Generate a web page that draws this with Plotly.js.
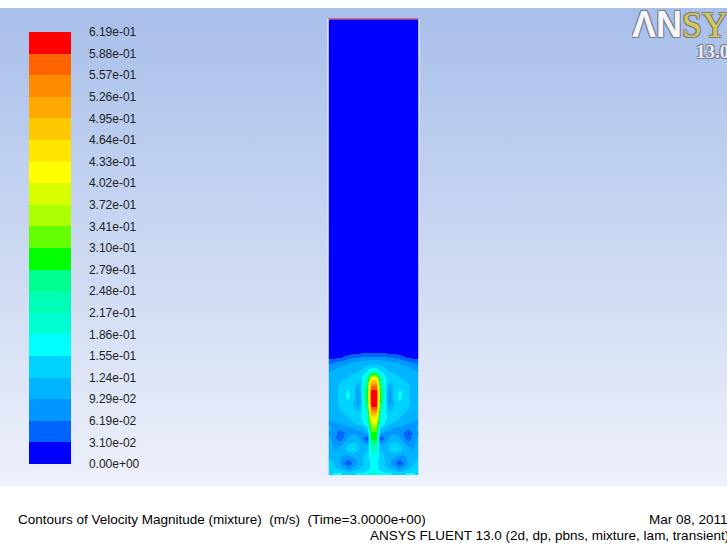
<!DOCTYPE html>
<html>
<head>
<meta charset="utf-8">
<script src="https://cdn.plot.ly/plotly-3.0.1.min.js"></script>
<style>
html,body{margin:0;padding:0;background:#ffffff;}
#chart{width:727px;height:544px;background:linear-gradient(to bottom,#ffffff 0px,#ffffff 8px,#a8bfea 8px,#eef1fa 486px,#ffffff 486px,#ffffff 544px);}
</style>
</head>
<body>
<div id="chart"></div>
<script>
// Sample positions across the column (m) and heights (m), listed top to bottom
const xCentres = [0.005,0.015,0.025,0.035,0.045,0.055,0.065,0.075,0.085,0.095,0.105,0.115,0.125,0.135,0.145,0.155,0.165,0.175,0.185,0.195];
const yLevels = [1.0,0.290,0.280,0.269,0.258,0.247,0.236,0.225,0.214,0.203,0.192,0.181,0.170,0.159,0.148,0.137,0.126,0.115,0.104,0.093,0.082,0.071,0.060,0.049,0.038,0.027,0.016,0.005];

// Velocity magnitude (m/s), rows top to bottom, matching yLevels
const velocity = [
  [0.005,0.005,0.005,0.005,0.005,0.005,0.005,0.005,0.005,0.005,0.005,0.005,0.005,0.005,0.005,0.005,0.005,0.005,0.005,0.005],
  [0.01,0.01,0.01,0.01,0.01,0.01,0.01,0.01,0.01,0.01,0.01,0.01,0.01,0.01,0.01,0.01,0.01,0.01,0.01,0.01],
  [0.012,0.012,0.012,0.012,0.012,0.012,0.012,0.012,0.012,0.012,0.012,0.012,0.012,0.012,0.012,0.012,0.012,0.012,0.012,0.012],
  [0.014,0.014,0.015,0.016,0.018,0.02,0.022,0.024,0.026,0.027,0.027,0.026,0.024,0.022,0.02,0.018,0.016,0.015,0.014,0.014],
  [0.02,0.022,0.028,0.035,0.045,0.055,0.06,0.065,0.068,0.07,0.07,0.068,0.065,0.06,0.055,0.045,0.035,0.028,0.022,0.02],
  [0.05,0.06,0.07,0.08,0.09,0.095,0.1,0.105,0.11,0.112,0.112,0.11,0.105,0.1,0.095,0.09,0.08,0.07,0.06,0.05],
  [0.08,0.09,0.095,0.1,0.105,0.11,0.115,0.12,0.13,0.14,0.14,0.13,0.12,0.115,0.11,0.105,0.1,0.095,0.09,0.08],
  [0.095,0.1,0.105,0.11,0.115,0.12,0.125,0.135,0.16,0.22,0.22,0.16,0.135,0.125,0.12,0.115,0.11,0.105,0.1,0.095],
  [0.1,0.105,0.11,0.115,0.125,0.135,0.14,0.155,0.21,0.4,0.4,0.21,0.155,0.14,0.135,0.125,0.115,0.11,0.105,0.1],
  [0.1,0.11,0.12,0.135,0.14,0.135,0.12,0.165,0.25,0.51,0.51,0.25,0.165,0.12,0.135,0.14,0.135,0.12,0.11,0.1],
  [0.1,0.115,0.13,0.145,0.15,0.14,0.085,0.17,0.28,0.57,0.57,0.28,0.17,0.085,0.14,0.15,0.145,0.13,0.115,0.1],
  [0.1,0.115,0.13,0.15,0.16,0.14,0.075,0.17,0.3,0.61,0.61,0.3,0.17,0.075,0.14,0.16,0.15,0.13,0.115,0.1],
  [0.1,0.115,0.13,0.15,0.16,0.14,0.07,0.17,0.3,0.62,0.62,0.3,0.17,0.07,0.14,0.16,0.15,0.13,0.115,0.1],
  [0.1,0.115,0.13,0.15,0.15,0.13,0.08,0.16,0.28,0.61,0.61,0.28,0.16,0.08,0.13,0.15,0.15,0.13,0.115,0.1],
  [0.1,0.11,0.125,0.14,0.14,0.13,0.11,0.16,0.25,0.58,0.58,0.25,0.16,0.11,0.13,0.14,0.14,0.125,0.11,0.1],
  [0.095,0.105,0.115,0.125,0.13,0.13,0.14,0.16,0.21,0.5,0.5,0.21,0.16,0.14,0.13,0.13,0.125,0.115,0.105,0.095],
  [0.095,0.1,0.11,0.115,0.125,0.135,0.145,0.16,0.2,0.44,0.44,0.2,0.16,0.145,0.135,0.125,0.115,0.11,0.1,0.095],
  [0.09,0.09,0.095,0.1,0.11,0.12,0.13,0.15,0.19,0.38,0.38,0.19,0.15,0.13,0.12,0.11,0.1,0.095,0.09,0.09],
  [0.095,0.085,0.075,0.08,0.085,0.09,0.1,0.11,0.14,0.33,0.33,0.14,0.11,0.1,0.09,0.085,0.08,0.07,0.085,0.095],
  [0.09,0.07,0.04,0.06,0.08,0.09,0.085,0.08,0.1,0.3,0.3,0.1,0.08,0.085,0.09,0.08,0.06,0.03,0.06,0.09],
  [0.095,0.07,0.035,0.07,0.1,0.11,0.1,0.07,0.03,0.29,0.29,0.03,0.07,0.1,0.11,0.1,0.07,0.04,0.07,0.095],
  [0.1,0.085,0.08,0.1,0.12,0.13,0.12,0.1,0.08,0.26,0.26,0.08,0.1,0.12,0.13,0.12,0.1,0.08,0.085,0.1],
  [0.1,0.09,0.1,0.12,0.14,0.16,0.13,0.11,0.12,0.22,0.22,0.12,0.11,0.13,0.16,0.14,0.12,0.1,0.09,0.1],
  [0.11,0.1,0.095,0.1,0.11,0.12,0.11,0.12,0.13,0.19,0.19,0.13,0.12,0.11,0.12,0.11,0.1,0.095,0.1,0.11],
  [0.12,0.11,0.1,0.08,0.07,0.09,0.1,0.12,0.14,0.17,0.17,0.14,0.12,0.1,0.09,0.07,0.08,0.1,0.11,0.12],
  [0.13,0.12,0.1,0.06,0.03,0.07,0.1,0.12,0.14,0.16,0.16,0.14,0.12,0.1,0.07,0.03,0.06,0.1,0.12,0.13],
  [0.13,0.13,0.12,0.1,0.08,0.1,0.12,0.13,0.14,0.16,0.16,0.14,0.13,0.12,0.1,0.08,0.1,0.12,0.13,0.13],
  [0.15,0.16,0.16,0.15,0.14,0.15,0.16,0.16,0.17,0.2,0.2,0.17,0.16,0.16,0.15,0.14,0.15,0.16,0.16,0.15]
];

const zMax = 0.619;
// 20 colour bands, lowest to highest
const bandColours = ['#0000ff','#0064ff','#0096ff','#00b4ff','#00d2ff','#00ffff','#00ffd2','#00ffb4','#00ff8c','#00ff00',
                     '#64ff00','#aaff00','#d7ff00','#ffff00','#ffe600','#ffc800','#ffaa00','#ff8c00','#ff6400','#ff0000'];
const tickLabels = ['0.00e+00','3.10e-02','6.19e-02','9.29e-02','1.24e-01','1.55e-01','1.86e-01','2.17e-01','2.48e-01','2.79e-01',
                    '3.10e-01','3.41e-01','3.72e-01','4.02e-01','4.33e-01','4.64e-01','4.95e-01','5.26e-01','5.57e-01','5.88e-01','6.19e-01'];

const nb = bandColours.length;
const colorscale = [];
bandColours.forEach((c, k) => { colorscale.push([k / nb, c]); colorscale.push([(k + 1) / nb, c]); });
const tickVals = tickLabels.map((_, i) => i * zMax / (tickLabels.length - 1));

const W = 727, H = 544;
const trace = {
  type: 'heatmap',
  x: xCentres,
  y: yLevels.slice().reverse(),
  z: velocity.slice().reverse(),
  zmin: 0, zmax: zMax,
  zsmooth: 'best',
  colorscale: colorscale,
  hoverinfo: 'skip',
  colorbar: {
    x: 29 / W, xanchor: 'left', xpad: 0,
    y: 1 - 248 / H, yanchor: 'middle', ypad: 0,
    len: 432, lenmode: 'pixels',
    thickness: 42, thicknessmode: 'pixels',
    outlinewidth: 0, borderwidth: 0, bgcolor: 'rgba(0,0,0,0)',
    tickmode: 'array', tickvals: tickVals, ticktext: tickLabels,
    ticks: 'outside', ticklen: 16, tickcolor: 'rgba(0,0,0,0)',
    tickfont: {family: 'Liberation Sans, Arial, sans-serif', size: 12, color: '#222222'}
  }
};

const outline = '1px 1px 0 #7a7f8c, -1px -1px 0 #7a7f8c, 1px -1px 0 #7a7f8c, -1px 1px 0 #7a7f8c';
const layout = {
  width: W, height: H,
  margin: {l: 0, r: 0, t: 0, b: 0},
  paper_bgcolor: 'rgba(0,0,0,0)',
  plot_bgcolor: 'rgba(0,0,0,0)',
  showlegend: false,
  xaxis: {domain: [328 / W, 419 / W], range: [0, 0.2], visible: false, fixedrange: true},
  yaxis: {domain: [1 - 475 / H, 1 - 19 / H], range: [0, 1], visible: false, fixedrange: true},
  shapes: [
    {type: 'line', xref: 'x domain', yref: 'y domain', x0: 0, x1: 1, y0: 1, y1: 1, line: {color: '#c8507f', width: 1.5}},
    {type: 'line', xref: 'x domain', yref: 'y domain', x0: 0, x1: 0, y0: 0, y1: 1, line: {color: '#e6ebfb', width: 1.5}},
    {type: 'line', xref: 'x domain', yref: 'y domain', x0: 1, x1: 1, y0: 0, y1: 1, line: {color: '#e6ebfb', width: 1.5}}
  ],
  annotations: [
    {xref: 'paper', yref: 'paper', x: 16 / W, y: 1 - 519 / H, xanchor: 'left', yanchor: 'middle', showarrow: false,
     text: 'Contours of Velocity Magnitude (mixture)\u00a0\u00a0(m/s)\u00a0\u00a0(Time=3.0000e+00)',
     font: {family: 'Liberation Sans, Arial, sans-serif', size: 13.5, color: '#000000'}},
    {xref: 'paper', yref: 'paper', x: 730 / W, y: 1 - 519 / H, xanchor: 'right', yanchor: 'middle', showarrow: false,
     text: 'Mar 08, 2011',
     font: {family: 'Liberation Sans, Arial, sans-serif', size: 13.5, color: '#000000'}},
    {xref: 'paper', yref: 'paper', x: 731 / W, y: 1 - 535 / H, xanchor: 'right', yanchor: 'middle', showarrow: false,
     text: 'ANSYS FLUENT 13.0 (2d, dp, pbns, mixture, lam, transient)',
     font: {family: 'Liberation Sans, Arial, sans-serif', size: 13.5, color: '#000000'}},
    {xref: 'paper', yref: 'paper', x: 630 / W, y: 1 - 23.5 / H, xanchor: 'left', yanchor: 'middle', showarrow: false,
     height: 28,
     text: '<span style="font-family:Liberation Sans Narrow, Liberation Sans, sans-serif;font-weight:bold">\u039BN</span>' +
           '<span style="font-family:Liberation Serif, serif;font-weight:normal;color:#d9c84e">SYS</span>',
     font: {family: 'Liberation Sans Narrow, Liberation Sans, sans-serif', size: 36, color: '#f4f6fc', weight: 'bold', shadow: outline}},
    {xref: 'paper', yref: 'paper', x: 694 / W, y: 1 - 51 / H, xanchor: 'left', yanchor: 'middle', showarrow: false,
     text: '13.0',
     font: {family: 'Liberation Serif, serif', size: 19, color: '#e8ecf8', weight: 'bold', shadow: outline}}
  ]
};

Plotly.newPlot('chart', [trace], layout, {displayModeBar: false, staticPlot: true});
</script>
</body>
</html>
